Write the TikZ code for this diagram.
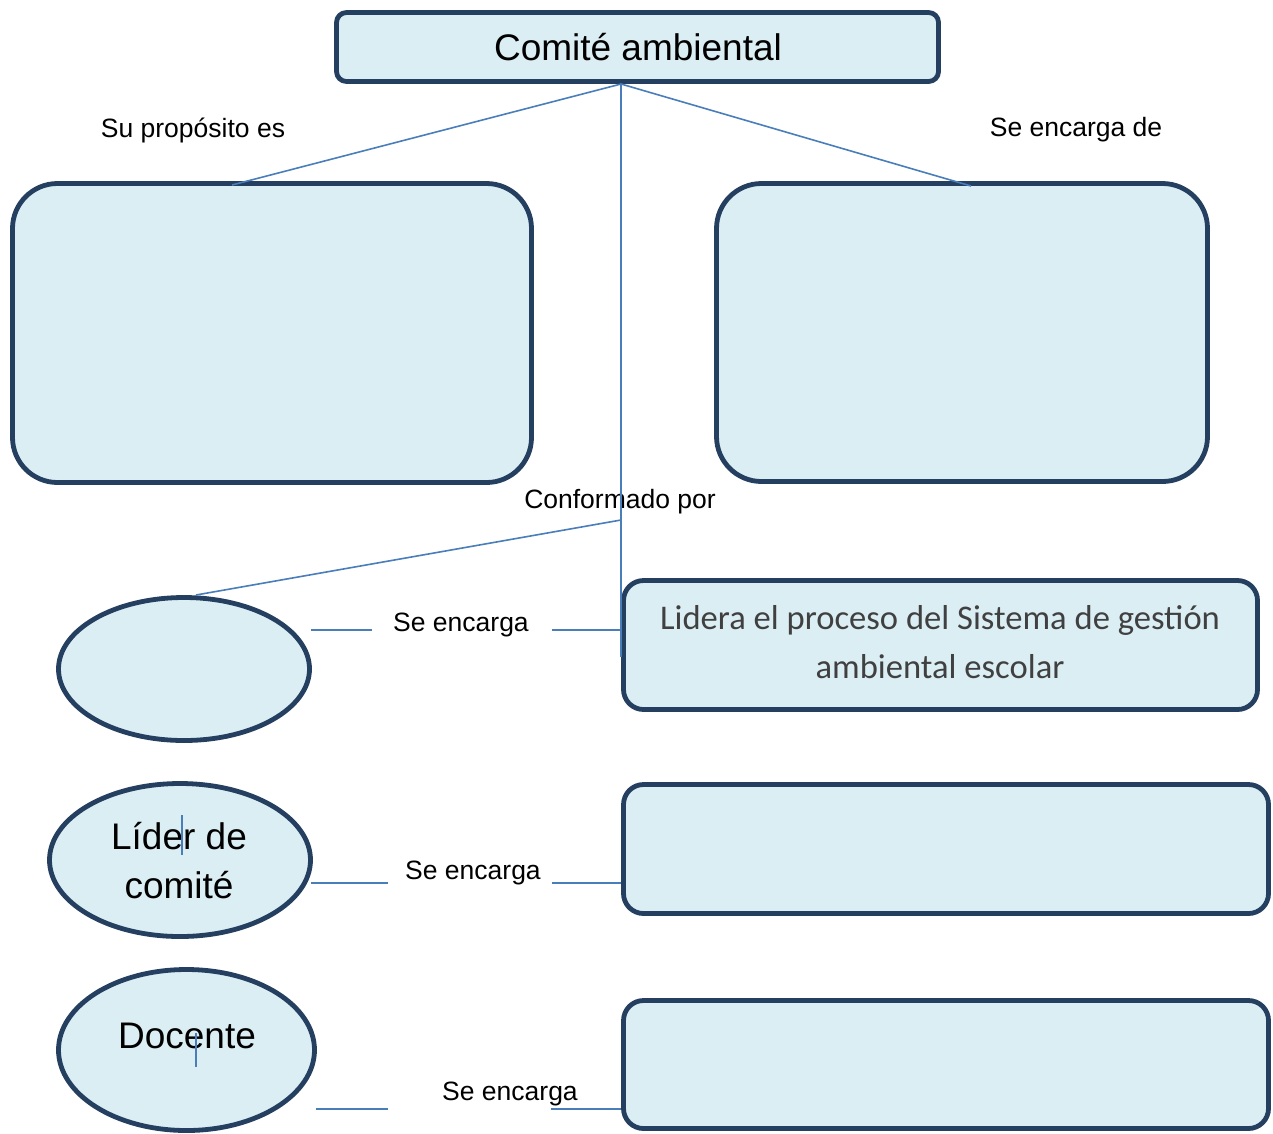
\documentclass[tikz,border=0pt]{standalone}
\usepackage{fontspec}
\setmainfont{Liberation Sans}
\newfontfamily\calib{Carlito}
\usetikzlibrary{shapes.geometric}
\definecolor{boxfill}{HTML}{DBEEF4}
\definecolor{boxline}{HTML}{243F60}
\definecolor{connc}{HTML}{4A7EBB}
\definecolor{txtgray}{HTML}{404040}
\begin{document}
\begin{tikzpicture}[x=1pt,y=-1pt,
 box/.style={draw=boxline, fill=boxfill, line width=4.8pt, rectangle, inner sep=0pt},
 oval/.style={draw=boxline, fill=boxfill, line width=4.8pt, ellipse, inner sep=0pt},
 connector/.style={draw=connc, line width=1.6pt},
 lbl/.style={font=\fontsize{26.5}{30}\selectfont, inner sep=0pt},
 big/.style={font=\fontsize{37}{49}\selectfont, inner sep=0pt, align=center}]
\useasboundingbox (0,0) rectangle (1273,1133);

% boxes
\node[box, rounded corners=10pt, minimum width=602pt, minimum height=69pt] (top) at (637.5,47) {};
\node[big] (toptxt) at (638,47) {Comit\'e ambiental};
\node[box, rounded corners=45pt, minimum width=519pt, minimum height=299pt] (lbox) at (272,333) {};
\node[box, rounded corners=45pt, minimum width=491pt, minimum height=298pt] (rbox) at (962,332.5) {};
\node[box, rounded corners=20pt, minimum width=634pt, minimum height=129pt] (lidera) at (940.5,645) {};
\node[font=\calib\fontsize{34.6}{49}\selectfont, text=txtgray, align=center, inner sep=0pt] (lideratxt) at (940,642) {Lidera el proceso del Sistema de gesti\'on\\ambiental escolar};
\node[box, rounded corners=20pt, minimum width=645pt, minimum height=129pt] (box3) at (946,849) {};
\node[box, rounded corners=20pt, minimum width=645pt, minimum height=128pt] (box4) at (946,1064.5) {};

% ellipses
\node[oval, minimum width=251pt, minimum height=143pt] (e1) at (184,669) {};
\node[oval, minimum width=261pt, minimum height=153pt] (e2) at (180,860) {};
\node[big] (e2txt) at (179,861) {L\'ider de\\comit\'e};
\node[oval, minimum width=256pt, minimum height=161pt] (e3) at (186.5,1050) {};
\node[big] (e3txt) at (187,1036) {Docente};

% labels
\node[lbl] (l1) at (193,130) {Su prop\'osito es};
\node[lbl] (l2) at (1076,130) {Se encarga de};
\node[lbl] (l3) at (620,502) {Conformado por};
\node[lbl] (s1) at (461,625) {Se encarga};
\node[lbl] (s2) at (473,873) {Se encarga};
\node[lbl] (s3) at (510,1094) {Se encarga};

% coordinates
\coordinate (hub) at (621,84);
\coordinate (lend) at (232,185);
\coordinate (rend) at (971,186);
\coordinate (vend) at (621,657);
\coordinate (branch) at (621,520);
\coordinate (e1top) at (196,595);
\coordinate (a1) at (311,630); \coordinate (a2) at (372,630);
\coordinate (a3) at (552,630); \coordinate (a4) at (621,630);
\coordinate (b1) at (311,883); \coordinate (b2) at (388,883);
\coordinate (b3) at (552,883); \coordinate (b4) at (621,883);
\coordinate (c1) at (316,1109); \coordinate (c2) at (388,1109);
\coordinate (c3) at (551,1109); \coordinate (c4) at (621,1109);
\coordinate (m1) at (182,815); \coordinate (m2) at (182,855);
\coordinate (n1) at (196,1033); \coordinate (n2) at (196,1067);

% connectors
\draw[connector] (hub) -- (lend);
\draw[connector] (hub) -- (rend);
\draw[connector] (hub) -- (vend);
\draw[connector] (branch) -- (e1top);
\draw[connector] (a1) -- (a2);
\draw[connector] (a3) -- (a4);
\draw[connector] (b1) -- (b2);
\draw[connector] (b3) -- (b4);
\draw[connector] (c1) -- (c2);
\draw[connector] (c3) -- (c4);
\draw[connector, line width=1.2pt] (m1) -- (m2);
\draw[connector, line width=1.2pt] (n1) -- (n2);
\end{tikzpicture}
\end{document}
